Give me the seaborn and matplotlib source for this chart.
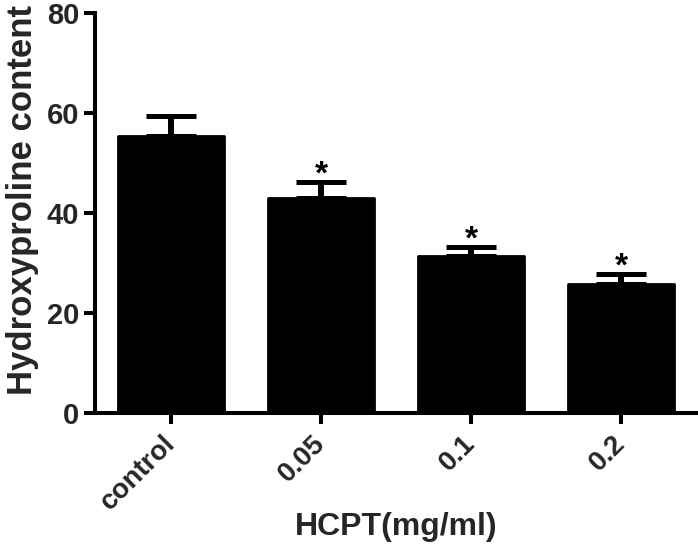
import matplotlib
matplotlib.use("Agg")
import matplotlib.pyplot as plt
import seaborn as sns
import pandas as pd
import numpy as np

categories = ["control", "0.05", "0.1", "0.2"]
means = [55.4, 43.0, 31.5, 25.9]
errors = [4.1, 3.3, 1.7, 1.9]
stars = ["", "*", "*", "*"]
y_ticks = [0, 20, 40, 60, 80]

sns.set_theme(style="ticks")
plt.rcParams["font.family"] = ["Liberation Sans", "DejaVu Sans"]

df = pd.DataFrame({"group": categories, "value": means})

fig = plt.figure(figsize=(6.98, 5.49), dpi=100)
ax = fig.add_axes([0.1361, 0.2472, 0.8625, 0.7286])

sns.barplot(data=df, x="group", y="value", order=categories, color="black",
            width=0.707, edgecolor="black", linewidth=2, ax=ax, errorbar=None,
            saturation=1)
for p in ax.patches:
    p.set_joinstyle("round")

xpos = np.arange(len(categories))
ax.errorbar(xpos, means, yerr=[np.zeros(len(errors)), errors], fmt="none",
            ecolor="black", elinewidth=4.3, capsize=18, capthick=3.6, zorder=1)

for x, m, e, s in zip(xpos, means, errors, stars):
    if s:
        ax.text(x, m + e - 0.3, s, ha="center", va="baseline", fontsize=24,
                fontweight="bold", color="black")

ax.set_xlim(-0.507, 3.507)
ax.set_ylim(0, 80)
ax.set_yticks(y_ticks)
ax.set_yticklabels([str(t) for t in y_ticks], fontsize=21, fontweight="bold")
ax.set_xticks(xpos)
ax.set_xticklabels(categories, rotation=45, ha="right", va="center",
                   rotation_mode="anchor", fontsize=20, fontweight="bold")
ax.set_xlabel("HCPT(mg/ml)", fontsize=23, fontweight="bold")
ax.xaxis.set_label_coords(0.5, -0.247)
ax.set_ylabel("Hydroxyproline content", fontsize=25, fontweight="bold")
ax.yaxis.set_label_coords(-0.093, 0.533)

for side in ["top", "right"]:
    ax.spines[side].set_visible(False)
for side in ["left", "bottom"]:
    ax.spines[side].set_linewidth(2.9)
    ax.spines[side].set_color("black")
ax.tick_params(axis="both", length=8, width=2.9, color="black", pad=3.5)
ax.tick_params(axis="x", pad=11)

fig.savefig("out.png", dpi=100)
